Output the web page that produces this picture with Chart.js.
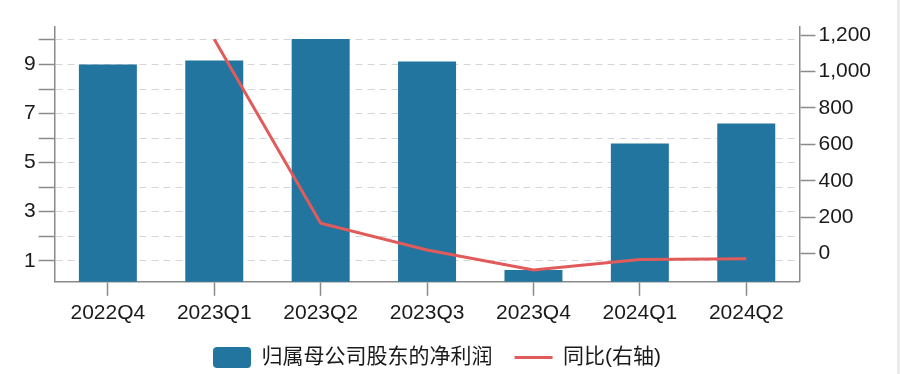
<!DOCTYPE html>
<html>
<head>
<meta charset="utf-8">
<script src="https://cdn.jsdelivr.net/npm/chart.js@4/dist/chart.umd.min.js"></script>
<style>
  html, body { margin: 0; padding: 0; background: #fff; }
  #wrap { width: 897px; height: 374px; border-right: 3px solid #ececec; }
</style>
</head>
<body>
<div id="wrap"><canvas id="profitChart" width="897" height="374"></canvas></div>
<script>
/* ── data ── */
const quarters   = ['2022Q4', '2023Q1', '2023Q2', '2023Q3', '2023Q4', '2024Q1', '2024Q2'];
const netProfit  = [9.0, 9.16, 10.04, 9.12, 0.62, 5.78, 6.59];
const yoyPct     = [null, 1178, 167, 20, -90, -33, -29];
const leftTicks  = [1, 2, 3, 4, 5, 6, 7, 8, 9, 10];
const rightTicks = [0, 200, 400, 600, 800, 1000, 1200];

const BAR_COLOR  = '#22759f';
const LINE_COLOR = '#e15b5b';
const AXIS_COLOR = '#8a8a8a';
const FONT = { family: '"Liberation Sans", "Noto Sans CJK SC", sans-serif', size: 21 };

// rounded legend swatch for the bar series
function roundSwatch(w, h, r, color) {
  const c = document.createElement('canvas');
  c.width = w; c.height = h;
  const g = c.getContext('2d');
  g.fillStyle = color;
  g.beginPath();
  g.roundRect(0, 0, w, h, r);
  g.fill();
  return c;
}

// legend sits a little right of the plot centre in the original
const legendNudge = {
  id: 'legendNudge',
  afterLayout(chart) { chart.legend.left += 20; }
};

Chart.defaults.color = '#222';
Chart.defaults.font.family = FONT.family;

new Chart(document.getElementById('profitChart'), {
  data: {
    labels: quarters,
    datasets: [
      {
        type: 'bar',
        label: '归属母公司股东的净利润',
        data: netProfit,
        backgroundColor: BAR_COLOR,
        borderWidth: 0,
        categoryPercentage: 1,
        barPercentage: 0.545,
        pointStyle: roundSwatch(38, 21, 4, BAR_COLOR),
        yAxisID: 'y',
        order: 1,
      },
      {
        type: 'line',
        label: '同比(右轴)',
        data: yoyPct,
        borderColor: LINE_COLOR,
        backgroundColor: LINE_COLOR,
        borderWidth: 3,
        pointRadius: 0,
        tension: 0,
        pointStyle: 'line',
        yAxisID: 'y1',
        order: 0,
      }
    ]
  },
  plugins: [legendNudge],
  options: {
    responsive: false,
    animation: false,
    layout: { padding: { left: 21, right: 23, top: 27, bottom: -4 } },
    plugins: {
      tooltip: { enabled: false },
      legend: {
        position: 'bottom',
        fullSize: false,
        labels: {
          usePointStyle: true,
          pointStyleWidth: 38,
          boxHeight: 21,
          padding: 22,
          color: '#1a1a1a',
          font: { family: FONT.family, size: 21, lineHeight: 1 },
          sort: (a, b) => a.datasetIndex - b.datasetIndex,
        }
      }
    },
    scales: {
      x: {
        offset: true,
        afterFit: s => { s.height -= 6; },
        grid: { offset: false, drawOnChartArea: false, tickLength: 14, tickColor: AXIS_COLOR, tickWidth: 1.5 },
        border: { color: AXIS_COLOR, width: 1.5 },
        ticks: { font: FONT, color: '#1a1a1a', padding: 5, maxRotation: 0, autoSkip: false },
      },
      y: {
        position: 'left',
        min: 0.14,
        max: 10.53,
        afterBuildTicks: s => { s.ticks = leftTicks.map(v => ({ value: v })); },
        grid: { color: '#d6d6d6', lineWidth: 1, tickLength: 16, tickColor: AXIS_COLOR, tickWidth: 1.5, tickBorderDash: [] },
        border: { color: AXIS_COLOR, width: 1.5, dash: [7, 5] },
        ticks: { font: FONT, color: '#1a1a1a', padding: 3, callback: v => (v % 2 === 1 ? String(v) : '') },
      },
      y1: {
        position: 'right',
        min: -155,
        max: 1245,
        afterBuildTicks: s => { s.ticks = rightTicks.map(v => ({ value: v })); },
        grid: { drawOnChartArea: false, tickLength: 16, tickColor: AXIS_COLOR, tickWidth: 1.5 },
        border: { color: AXIS_COLOR, width: 1.5 },
        ticks: { font: FONT, color: '#1a1a1a', padding: 3, callback: v => v.toLocaleString('en-US') },
      }
    }
  }
});
</script>
</body>
</html>
